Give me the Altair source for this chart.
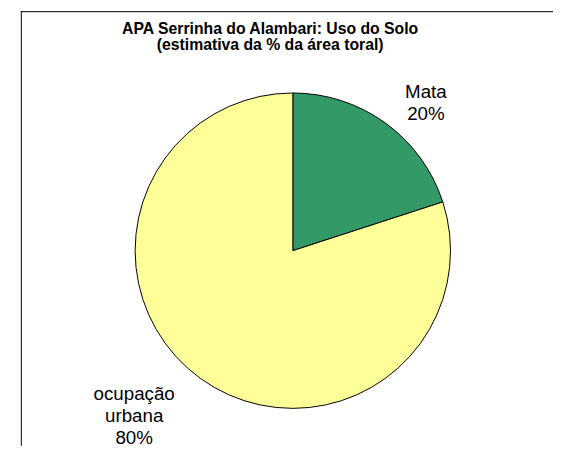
import altair as alt
import pandas as pd

categories = ["Mata", "ocupação urbana"]
values = [20, 80]
colors = ["#339966", "#FFFF99"]
title_lines = ["APA Serrinha do Alambari: Uso do Solo", "(estimativa da % da área toral)"]

labels = [c.replace(" ", "\n") + "\n" + str(v) + "%" for c, v in zip(categories, values)]
df = pd.DataFrame({"category": categories, "value": values,
                   "order": list(range(len(categories))), "label": labels})

W, H = 553, 441
FONT = "Liberation Sans"

pie = alt.Chart(df).mark_arc(stroke="black", strokeWidth=1, outerRadius=160).encode(
    theta=alt.Theta("value:Q", stack=True),
    color=alt.Color("category:N", scale=alt.Scale(domain=categories, range=colors), legend=None),
    order=alt.Order("order:Q"),
    x=alt.value(289),
    y=alt.value(243),
)

lab_mata = alt.Chart(df).transform_filter(alt.datum.category == categories[0]).mark_text(
    lineBreak="\n", font=FONT, fontSize=19, color="black", align="center",
    baseline="alphabetic", lineHeight=22,
).encode(text="label:N", x=alt.value(424), y=alt.value(88))

lab_urb = alt.Chart(df).transform_filter(alt.datum.category == categories[1]).mark_text(
    lineBreak="\n", font=FONT, fontSize=19, color="black", align="center",
    baseline="alphabetic", lineHeight=22,
).encode(text="label:N", x=alt.value(128), y=alt.value(395))

title = alt.Chart(pd.DataFrame({"t": [0]})).mark_text(
    text=title_lines, font=FONT, fontSize=16, fontWeight="bold", color="black",
    align="center", baseline="alphabetic", lineHeight=16,
).encode(x=alt.value(266), y=alt.value(23))

border_top = alt.Chart(pd.DataFrame({"t": [0]})).mark_rule(color="black", strokeWidth=1).encode(
    x=alt.value(13), x2=alt.value(W), y=alt.value(0.5))
border_left = alt.Chart(pd.DataFrame({"t": [0]})).mark_rule(color="black", strokeWidth=1).encode(
    x=alt.value(13.5), y=alt.value(0), y2=alt.value(H))

chart = alt.layer(border_top, border_left, pie, lab_mata, lab_urb, title).properties(
    width=W, height=H, padding=0, autosize=alt.AutoSizeParams(type="none"),
    background="white",
).configure_view(stroke=None)

chart.save("out.html", embed_options={"renderer": "svg", "actions": False})
